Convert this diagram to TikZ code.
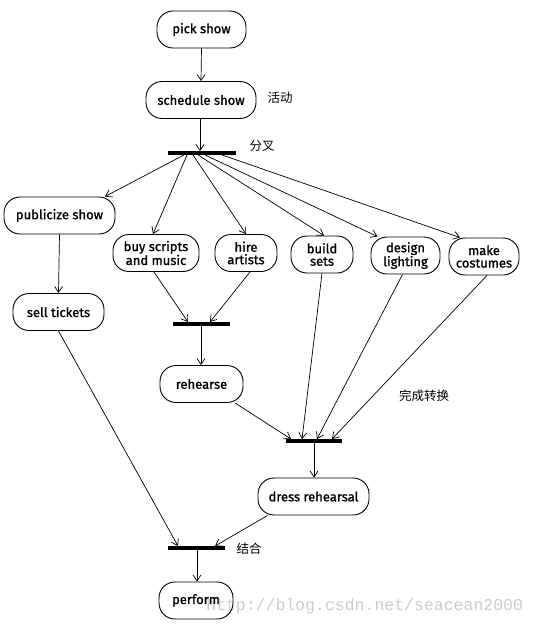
\documentclass[tikz,border=0pt]{standalone}
\usepackage{fontspec}
\setmainfont{Fira Sans}
\newfontfamily\actfont{Fira Sans}[FakeBold=1.2]
\newfontfamily\cjk{Noto Sans CJK SC}
\newfontfamily\wmfont{Liberation Mono}
\usetikzlibrary{arrows.meta}
\begin{document}
\begin{tikzpicture}[x=1pt,y=-1pt,
  act/.style={draw, line width=0.9pt, rounded corners=16pt, minimum height=37pt,
    align=center, inner sep=1pt, font=\actfont\fontsize{13}{12.5}\selectfont},
  bar/.style={fill=black, minimum height=3.5pt, inner sep=0pt},
  arr/.style={-{Straight Barb[length=6pt,width=8pt]}, line width=0.7pt},
  lab/.style={font=\cjk\fontsize{12.5}{13}\selectfont, inner sep=0pt},
  wm/.style={font=\wmfont\fontsize{16.5}{17}\selectfont, text=black!20, inner sep=0pt}]
\fill[white] (0,0) rectangle (535,626);
\useasboundingbox (0,0) rectangle (535,626);
% watermark (behind)
\node[wm, anchor=west] (wmark) at (206,606) {http://blog.csdn.net/seacean2000};
% activities
\node[act, minimum width=89pt]  (pick)  at (201.5,29.5) {pick show};
\node[act, minimum width=110pt] (sched) at (201,100) {schedule show};
\node[bar, minimum width=68pt]  (fork)  at (202,153) {};
\node[act, minimum width=111pt] (pub)   at (59.5,215.5) {publicize show};
\node[act, minimum width=86pt]  (buy)   at (156,253) {buy scripts\\and music};
\node[act, minimum width=62pt]  (hire)  at (246,253) {hire\\artists};
\node[act, minimum width=62pt]  (build) at (322,254.5) {build\\sets};
\node[act, minimum width=69pt]  (light) at (405.5,255.5) {design\\lighting};
\node[act, minimum width=70pt]  (cost)  at (484,256.5) {make\\costumes};
\node[act, minimum width=91pt]  (sell)  at (58.5,312) {sell tickets};
\node[bar, minimum width=57pt]  (jA)    at (201.5,324) {};
\node[act, minimum width=83pt]  (reh)   at (201.5,384) {rehearse};
\node[bar, minimum width=56pt]  (jB)    at (314,441) {};
\node[act, minimum width=111pt] (dress) at (313.5,496.5) {dress rehearsal};
\node[bar, minimum width=57pt]  (jC)    at (196.5,548) {};
\node[act, minimum width=74pt]  (perf)  at (196,600.5) {perform};
% labels
\node[lab] (t1) at (280,98) {活动};
\node[lab] (t2) at (262,146) {分叉};
\node[lab] (t3) at (424,396) {完成转换};
\node[lab] (t4) at (249,549) {结合};
% connectors
\draw[arr] (pick.south) -- (sched.north);
\draw[arr] ([xshift=-1pt]sched.south) -- ([xshift=-2pt]fork.north);
\draw[arr] ([xshift=-18pt]fork.south) -- ([xshift=45.5pt]pub.north);
\draw[arr] ([xshift=-15pt]fork.south) -- ([xshift=-3pt]buy.north);
\draw[arr] ([xshift=-9pt]fork.south) -- ([xshift=0pt]hire.north);
\draw[arr] ([xshift=-4pt]fork.south) -- ([xshift=2pt]build.north);
\draw[arr] ([xshift=3pt]fork.south) -- ([xshift=-28pt]light.north);
\draw[arr] ([xshift=20pt]fork.south) -- ([xshift=-24pt]cost.north);
\draw[arr] (pub.south) -- (sell.north);
\draw[arr] ([xshift=-2pt]buy.south) -- ([xshift=-13.5pt]jA.north);
\draw[arr] ([xshift=4pt]hire.south) -- ([xshift=8.5pt]jA.north);
\draw[arr] ([xshift=-0.5pt]jA.south) -- ([xshift=-0.5pt]reh.north);
\draw[arr] (sell.south) -- ([xshift=-18.5pt]jC.north);
\draw[arr] ([xshift=33.5pt]reh.south) -- ([xshift=-23pt]jB.north);
\draw[arr] (build.south) -- ([xshift=-12pt]jB.north);
\draw[arr] ([xshift=-3pt]light.south) -- ([xshift=3pt]jB.north);
\draw[arr] ([xshift=3pt]cost.south) -- ([xshift=18pt]jB.north);
\draw[arr] (jB.south) -- ([xshift=0.5pt]dress.north);
\draw[arr] ([xshift=-46pt]dress.south) -- ([xshift=18.5pt]jC.north);
\draw[arr] ([xshift=0.5pt]jC.south) -- ([xshift=1pt]perf.north);
\end{tikzpicture}
\end{document}
